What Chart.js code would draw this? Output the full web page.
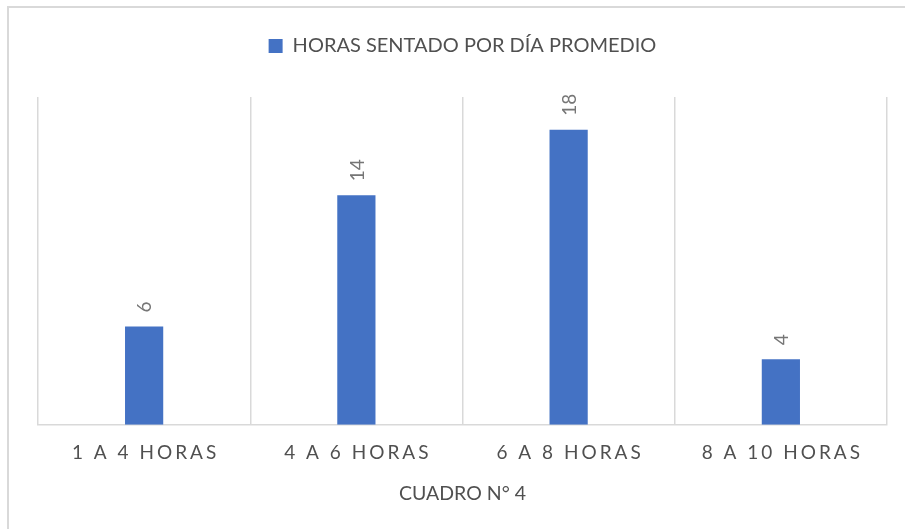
<!DOCTYPE html>
<html>
<head>
<meta charset="utf-8">
<script src="https://cdn.jsdelivr.net/npm/chart.js@4/dist/chart.umd.min.js"></script>
<style>
  html, body { margin: 0; padding: 0; background: #fff; }
  #wrap { position: relative; width: 905px; height: 529px; overflow: hidden; }
  #frame { position: absolute; left: 7px; top: 6px; width: 1000px; height: 1000px;
           border-left: 2px solid #d9d9d9; border-top: 2px solid #d9d9d9; box-sizing: border-box; }
  #c { position: absolute; left: 0; top: 0; }
</style>
</head>
<body>
<div id="wrap">
  <div id="frame"></div>
  <canvas id="c" width="905" height="529"></canvas>
</div>
<script>
const categories = ['1 A 4 HORAS', '4 A 6 HORAS', '6 A 8 HORAS', '8 A 10 HORAS'];
const seriesName = 'HORAS SENTADO POR DÍA PROMEDIO';
const seriesValues = [6, 14, 18, 4];
const axisTitle = 'CUADRO N° 4';

const FONT = 'Lato';

const layoutTweaks = {
  id: 'layoutTweaks',
  beforeLayout(chart) {
    const lg = chart.legend;
    if (lg && !lg._patched) {
      const orig = lg.fit;
      lg.fit = function () { orig.call(this); this.height += 31; };
      lg._patched = true;
    }
  },
  beforeDraw(chart) {
    const sx = chart.scales.x;
    if (sx && !sx._patched) {
      const origDraw = sx.drawLabels;
      sx.drawLabels = function (area) {
        const ctx = this.ctx;
        ctx.save();
        ctx.letterSpacing = '3px';
        ctx.translate(1.5, 0);
        origDraw.call(this, area);
        ctx.restore();
      };
      sx._patched = true;
    }
  }
};

const barLabels = {
  id: 'barLabels',
  afterDatasetsDraw(chart) {
    const ctx = chart.ctx;
    const meta = chart.getDatasetMeta(0);
    const ds = chart.data.datasets[0];
    ctx.save();
    ctx.font = '19px ' + FONT;
    ctx.fillStyle = '#767676';
    ctx.textAlign = 'left';
    ctx.textBaseline = 'middle';
    meta.data.forEach((bar, i) => {
      ctx.save();
      ctx.translate(bar.x, bar.y - 14);
      ctx.rotate(-Math.PI / 2);
      ctx.fillText(String(ds.data[i]), 0, 1);
      ctx.restore();
    });
    ctx.restore();
  }
};

new Chart(document.getElementById('c'), {
  type: 'bar',
  data: {
    labels: categories,
    datasets: [{
      label: seriesName,
      data: seriesValues,
      backgroundColor: '#4472c4',
      borderWidth: 0,
      barPercentage: 1,
      categoryPercentage: 0.18
    }]
  },
  options: {
    responsive: false,
    animation: false,
    devicePixelRatio: 1,
    layout: { padding: { left: 38, right: 18, top: 26, bottom: 24 } },
    plugins: {
      legend: {
        position: 'top',
        labels: {
          boxWidth: 14,
          boxHeight: 14,
          padding: 10,
          color: '#505050',
          font: { family: FONT, size: 20 }
        }
      },
      tooltip: { enabled: false },
      title: { display: false }
    },
    scales: {
      x: {
        grid: { display: true, offset: true, drawTicks: false, color: '#d9d9d9', lineWidth: 1.5 },
        border: { display: true, color: '#d9d9d9', width: 1.5 },
        ticks: { color: '#505050', padding: 17, font: { family: FONT, size: 19 } },
        title: { display: true, text: axisTitle, color: '#505050',
                 font: { family: FONT, size: 19.5 }, padding: { top: 0, bottom: 0 } }
      },
      y: {
        display: false,
        min: 0,
        max: 20
      }
    }
  },
  plugins: [layoutTweaks, barLabels]
});
</script>
</body>
</html>
